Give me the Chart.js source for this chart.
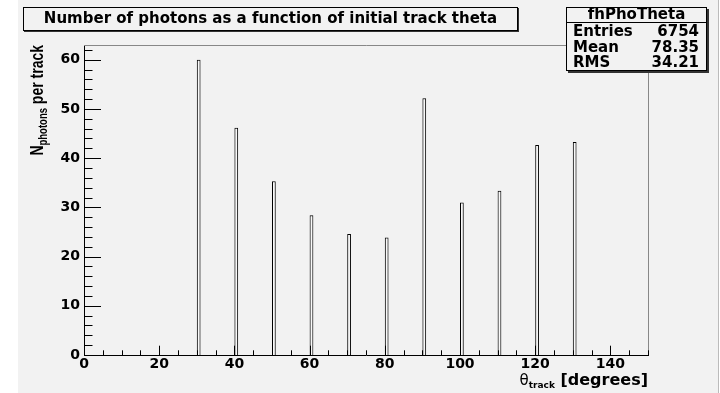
<!DOCTYPE html>
<html>
<head>
<meta charset="utf-8">
<script src="https://cdn.jsdelivr.net/npm/chart.js@4.4.0/dist/chart.umd.min.js"></script>
<style>
  html, body { margin: 0; padding: 0; background: #fff; }
  canvas { display: block; }
</style>
</head>
<body>
<canvas id="phoTheta" width="720" height="393"></canvas>
<script>
// fhPhoTheta: photons per track vs initial track theta, 1 degree bins
const binLow = [30, 40, 50, 60, 70, 80, 90, 100, 110, 120, 130];
const photonCounts = [60.0, 46.2, 35.3, 28.4, 24.6, 23.9, 52.2, 31.0, 33.4, 42.7, 43.3];
const binWidth = 1;
const binSpacing = 10;
const xTickValues = [0, 20, 40, 60, 80, 100, 120, 140];
const yTickValues = [0, 10, 20, 30, 40, 50, 60];
const statsLabels = ['Entries', 'Mean', 'RMS'];
const statsValues = ['6754', '78.35', '34.21'];

const WIDE = '"DejaVu Sans", Verdana, sans-serif';
const NARROW = '"Liberation Sans", Arial, Helvetica, sans-serif';
const PAD_GRAY = '#f2f2f2';

function font(size, family, weight) {
    return (weight || 'bold') + ' ' + size + 'px ' + family;
}

// text pieces drawn one after another: {t, f, dy}
function drawRuns(ctx, runs, x, y, align) {
    let total = 0;
    runs.forEach(r => { ctx.font = r.f; r.w = ctx.measureText(r.t).width; total += r.w; });
    let pos = align === 'right' ? x - total : x;
    ctx.textAlign = 'left';
    ctx.textBaseline = 'alphabetic';
    runs.forEach(r => {
        ctx.font = r.f;
        ctx.fillText(r.t, pos, y + (r.dy || 0));
        pos += r.w;
    });
}

function drawBox(ctx, x0, y0, x1, y1, shadow) {
    ctx.fillStyle = '#333';
    ctx.fillRect(x0 + shadow, y0 + shadow, x1 - x0, y1 - y0);
    ctx.fillStyle = PAD_GRAY;
    ctx.fillRect(x0, y0, x1 - x0, y1 - y0);
    ctx.strokeStyle = '#000';
    ctx.lineWidth = 1;
    ctx.strokeRect(x0 + 0.5, y0 + 0.5, x1 - x0 - 1, y1 - y0 - 1);
}

const rootPad = {
    id: 'rootPad',
    beforeDraw(chart) {
        const ctx = chart.ctx;
        ctx.save();
        ctx.fillStyle = '#fff';
        ctx.fillRect(0, 0, chart.width, chart.height);
        ctx.fillStyle = PAD_GRAY;
        ctx.fillRect(18, 0, 700, chart.height);
        ctx.fillStyle = '#bbb';
        ctx.fillRect(718, 0, 1, chart.height);
        ctx.restore();
    },
    afterDatasetsDraw(chart) {
        const ctx = chart.ctx;
        const area = chart.chartArea;
        const xs = chart.scales.x;
        const ys = chart.scales.y;
        ctx.save();
        // frame top and right
        ctx.strokeStyle = '#888';
        ctx.lineWidth = 1;
        ctx.beginPath();
        ctx.moveTo(area.left, area.top + 0.5);
        ctx.lineTo(area.right + 0.5, area.top + 0.5);
        ctx.lineTo(area.right + 0.5, area.bottom);
        ctx.stroke();

        // tick marks pointing into the frame
        ctx.strokeStyle = '#000';
        ctx.beginPath();
        for (let v = 0; v <= xs.max; v += 5) {
            const px = Math.round(xs.getPixelForValue(v)) + 0.5;
            const len = v % 20 === 0 ? 9.3 : 4.7;
            ctx.moveTo(px, area.bottom);
            ctx.lineTo(px, area.bottom - len);
        }
        for (let v = 0; v <= ys.max; v += 2) {
            const py = Math.round(ys.getPixelForValue(v)) + 0.5;
            const len = v % 10 === 0 ? 17 : 8.5;
            ctx.moveTo(area.left, py);
            ctx.lineTo(area.left + len, py);
        }
        ctx.stroke();
        ctx.restore();
    },
    afterDraw(chart) {
        const ctx = chart.ctx;
        const area = chart.chartArea;
        ctx.save();

        // title pave
        drawBox(ctx, 23, 7, 518, 31, 1);
        ctx.fillStyle = '#000';
        ctx.font = font(15, WIDE);
        ctx.textAlign = 'center';
        ctx.textBaseline = 'middle';
        ctx.fillText('Number of photons as a function of initial track theta', 270.5, 19.5);

        // stats pave
        drawBox(ctx, 566, 7, 707, 71, 2);
        ctx.fillStyle = '#000';
        ctx.fillRect(566, 22, 141, 1);
        ctx.font = font(15, WIDE);
        ctx.textAlign = 'center';
        ctx.fillText('fhPhoTheta', 636.5, 15.5);
        statsLabels.forEach((label, i) => {
            const y = 32.5 + i * 15.5;
            ctx.textAlign = 'left';
            ctx.fillText(label, 573, y);
            ctx.textAlign = 'right';
            ctx.fillText(statsValues[i], 699, y);
        });

        // axis titles
        ctx.fillStyle = '#000';
        drawRuns(ctx, [
            { t: '\u03b8', f: font(15, WIDE, 'normal') },
            { t: 'track', f: font(9, WIDE), dy: 3 },
            { t: ' [degrees]', f: font(16, WIDE) }
        ], area.right, 385, 'right');
        // y title reads upward, glyphs a bit taller across the axis
        ctx.translate(43, area.top);
        ctx.scale(1.3, 1);
        ctx.rotate(-Math.PI / 2);
        drawRuns(ctx, [
            { t: 'N', f: font(14, NARROW) },
            { t: 'photons', f: font(9.5, NARROW), dy: 3 },
            { t: ' per track', f: font(14, NARROW) }
        ], 0, 0, 'right');
        ctx.restore();
    }
};

const tickFont = { family: WIDE, weight: 'bold', size: 14 };

new Chart(document.getElementById('phoTheta'), {
    type: 'bar',
    data: {
        datasets: [{
            data: binLow.map((lo, i) => ({ x: lo + binWidth / 2, y: photonCounts[i] })),
            backgroundColor: 'rgba(255, 255, 255, 0.5)',
            borderColor: '#000',
            borderWidth: 1,
            barPercentage: binWidth / binSpacing,
            categoryPercentage: 1
        }]
    },
    options: {
        responsive: false,
        animation: false,
        layout: { padding: { left: 0, top: 45, right: 72, bottom: 0 } },
        plugins: {
            legend: { display: false },
            tooltip: { enabled: false }
        },
        scales: {
            x: {
                type: 'linear',
                offset: false,
                min: 0,
                max: 150,
                afterBuildTicks: s => { s.ticks = xTickValues.map(v => ({ value: v })); },
                afterFit: s => { s.height = 38; },
                grid: { display: false, drawTicks: false },
                border: { display: true, color: '#000', width: 1 },
                ticks: { font: tickFont, color: '#000', padding: 1, maxRotation: 0, autoSkip: false }
            },
            y: {
                min: 0,
                max: 63,
                afterBuildTicks: s => { s.ticks = yTickValues.map(v => ({ value: v })); },
                afterFit: s => { s.width = 84; },
                grid: { display: false, drawTicks: false },
                border: { display: true, color: '#000', width: 1 },
                ticks: { font: tickFont, color: '#000', padding: 4 }
            }
        }
    },
    plugins: [rootPad]
});
</script>
</body>
</html>
